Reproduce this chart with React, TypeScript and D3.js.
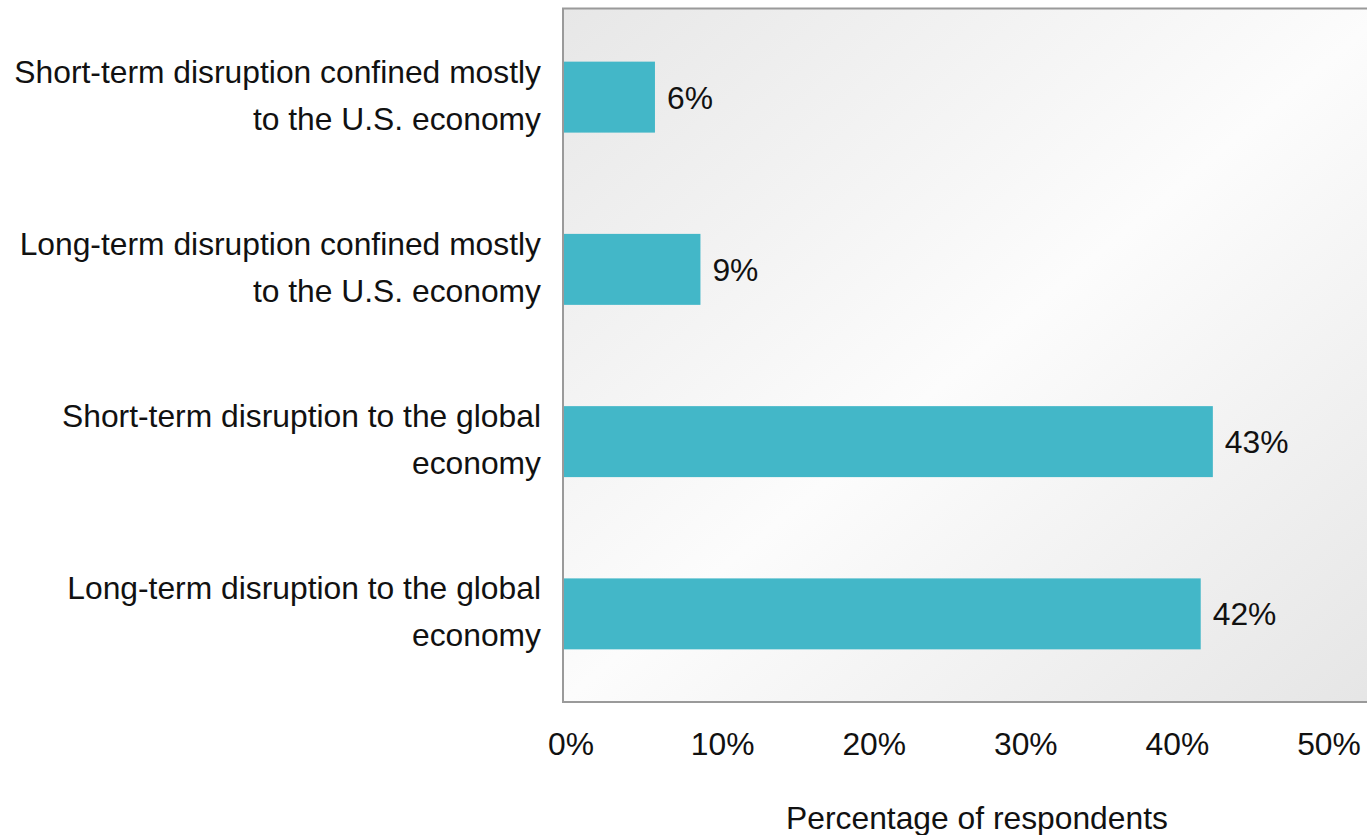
import React from "react";
import * as d3 from "d3";

const categories: string[][] = [
  ["Short-term disruption confined mostly", "to the U.S. economy"],
  ["Long-term disruption confined mostly", "to the U.S. economy"],
  ["Short-term disruption to the global", "economy"],
  ["Long-term disruption to the global", "economy"],
];
const categoryKeys = ["st-us", "lt-us", "st-global", "lt-global"];
const values = [6, 9, 42.8, 42];
const valueLabels = ["6%", "9%", "43%", "42%"];
const xTicks = [0, 10, 20, 30, 40, 50];
const axisTitle = "Percentage of respondents";

const W = 1367;
const H = 835;
const FONT = "'Liberation Sans', Arial, sans-serif";
const FS = 31.8;

export default function App() {
  const plotLeft = 563;
  const plotRight = 1391;
  const plotTop = 8.5;
  const plotBottom = 702;

  const x = d3.scaleLinear().domain([0, 50]).range([564, 1322]);
  const y = d3.scaleBand<string>().domain(categoryKeys).range([11, 700]).padding(0);
  const barH = y.bandwidth() * 0.412;

  return (
    <svg
      width={W}
      height={H}
      style={{ position: "absolute", left: 0, top: 0, background: "#fff" }}
      fontFamily={FONT}
    >
      <defs>
        <linearGradient id="bg" x1="0" y1="0" x2="1" y2="1">
          <stop offset="0" stopColor="#e7e7e7" />
          <stop offset="0.5" stopColor="#fcfcfc" />
          <stop offset="1" stopColor="#e5e5e5" />
        </linearGradient>
      </defs>
      <rect
        x={plotLeft}
        y={plotTop}
        width={plotRight - plotLeft}
        height={plotBottom - plotTop}
        fill="url(#bg)"
        stroke="#9a9a9a"
        strokeWidth={2}
      />
      {categoryKeys.map((k, i) => {
        const cy = (y(k) as number) + y.bandwidth() / 2;
        return (
          <g key={k}>
            <rect
              x={x(0)}
              y={cy - barH / 2}
              width={x(values[i]) - x(0)}
              height={barH}
              fill="#43b7c8"
            />
            <text
              x={x(values[i]) + 12}
              y={cy + FS * 0.36}
              fontSize={FS}
              fill="#111"
            >
              {valueLabels[i]}
            </text>
            {categories[i].map((line, j) => (
              <text
                key={j}
                x={541}
                y={cy - 14.5 + j * 47}
                textAnchor="end"
                fontSize={FS}
                fill="#111"
              >
                {line}
              </text>
            ))}
          </g>
        );
      })}
      {xTicks.map((t) => (
        <text
          key={t}
          x={x(t) + 7}
          y={755}
          textAnchor="middle"
          fontSize={FS}
          fill="#111"
        >
          {`${t}%`}
        </text>
      ))}
      <text
        x={(plotLeft + plotRight) / 2}
        y={829}
        textAnchor="middle"
        fontSize={FS}
        fill="#111"
      >
        {axisTitle}
      </text>
    </svg>
  );
}
